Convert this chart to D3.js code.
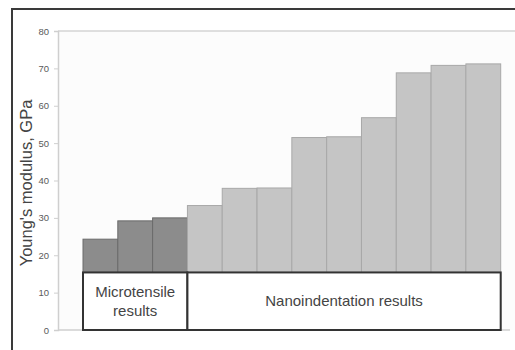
<!DOCTYPE html>
<html><head><meta charset="utf-8">
<script src="https://cdn.jsdelivr.net/npm/d3@7"></script>
<style>body{margin:0;background:#fff;}svg{display:block;font-family:"Liberation Sans",Arial,sans-serif;}</style>
</head><body><svg id="c" width="515" height="350"></svg>
<script>
const categories = ["M1","M2","M3","N1","N2","N3","N4","N5","N6","N7","N8","N9"];
const groups = ["micro","micro","micro","nano","nano","nano","nano","nano","nano","nano","nano","nano"];
const values = [24.3, 29.2, 30.0, 33.3, 37.9, 38.0, 51.5, 51.7, 56.8, 68.8, 70.8, 71.2];
const yTicks = [0,10,20,30,40,50,60,70,80];
const boxLabels = [
  {group:"micro", lines:["Microtensile","results"]},
  {group:"nano", lines:["Nanoindentation results"]}
];
const boxTop = 15.4;
const yTitle = "Young's modulus, GPa";

const svg = d3.select("#c");
const y = d3.scaleLinear().domain([0,80]).range([330,31]);
const x = d3.scaleBand().domain(categories).range([83,500.7]).padding(0);

// outer frame (left and top visible)
svg.append("path").attr("d","M12,350 V9 H515").attr("fill","none").attr("stroke","#3a3a3a").attr("stroke-width",2);

// plot area
svg.append("rect").attr("x",58).attr("y",31).attr("width",470).attr("height",299).attr("fill","#fcfcfc");
svg.append("line").attr("x1",58).attr("x2",515).attr("y1",y(80)).attr("y2",y(80)).attr("stroke","#d4d4d4").attr("stroke-width",1.5);

// y axis
const ax = svg.append("g").attr("transform","translate(58,0)").call(d3.axisLeft(y).tickValues(yTicks).tickSize(4).tickPadding(5));
ax.select(".domain").attr("stroke","#cfcfcf").attr("stroke-width",1.5);
ax.selectAll(".tick line").attr("stroke","#cfcfcf");
ax.selectAll(".tick text").attr("fill","#5a5a5a").style("font-size","9.5px").style("font-family","'Liberation Sans',Arial,sans-serif");

// x baseline
svg.append("line").attr("x1",58).attr("x2",510).attr("y1",y(0)).attr("y2",y(0)).attr("stroke","#cfcfcf").attr("stroke-width",1.5);

// bars
svg.append("g").selectAll("rect").data(values).join("rect")
  .attr("x",(d,i)=>x(categories[i]))
  .attr("y",d=>y(d))
  .attr("width",x.bandwidth())
  .attr("height",d=>y(0)-y(d))
  .attr("fill",(d,i)=>groups[i]==="micro"?"#8c8c8c":"#c5c5c5")
  .attr("stroke",(d,i)=>groups[i]==="micro"?"#6a6a6a":"#a8a8a8")
  .attr("stroke-width",1);

// group boxes
boxLabels.forEach(b=>{
  const idx = categories.map((c,i)=>i).filter(i=>groups[i]===b.group);
  const x0 = x(categories[idx[0]]), x1 = x(categories[idx[idx.length-1]])+x.bandwidth();
  svg.append("rect").attr("x",x0).attr("y",y(boxTop)).attr("width",x1-x0).attr("height",y(0)-y(boxTop))
    .attr("fill","#fff").attr("stroke","#333").attr("stroke-width",2);
  const cx=(x0+x1)/2, cy=(y(boxTop)+y(0))/2;
  const lh=19, n=b.lines.length;
  b.lines.forEach((t,k)=>{
    svg.append("text").attr("x",cx).attr("y",cy+(k-(n-1)/2)*lh).attr("dy","0.35em")
      .attr("text-anchor","middle").attr("fill","#444").style("font-size","15px").text(t);
  });
});

// y title
svg.append("text").attr("transform","translate(26,183) rotate(-90)").attr("text-anchor","middle").attr("dy","0.35em")
  .attr("fill","#444").style("font-size","16.5px").text(yTitle);
</script></body></html>
